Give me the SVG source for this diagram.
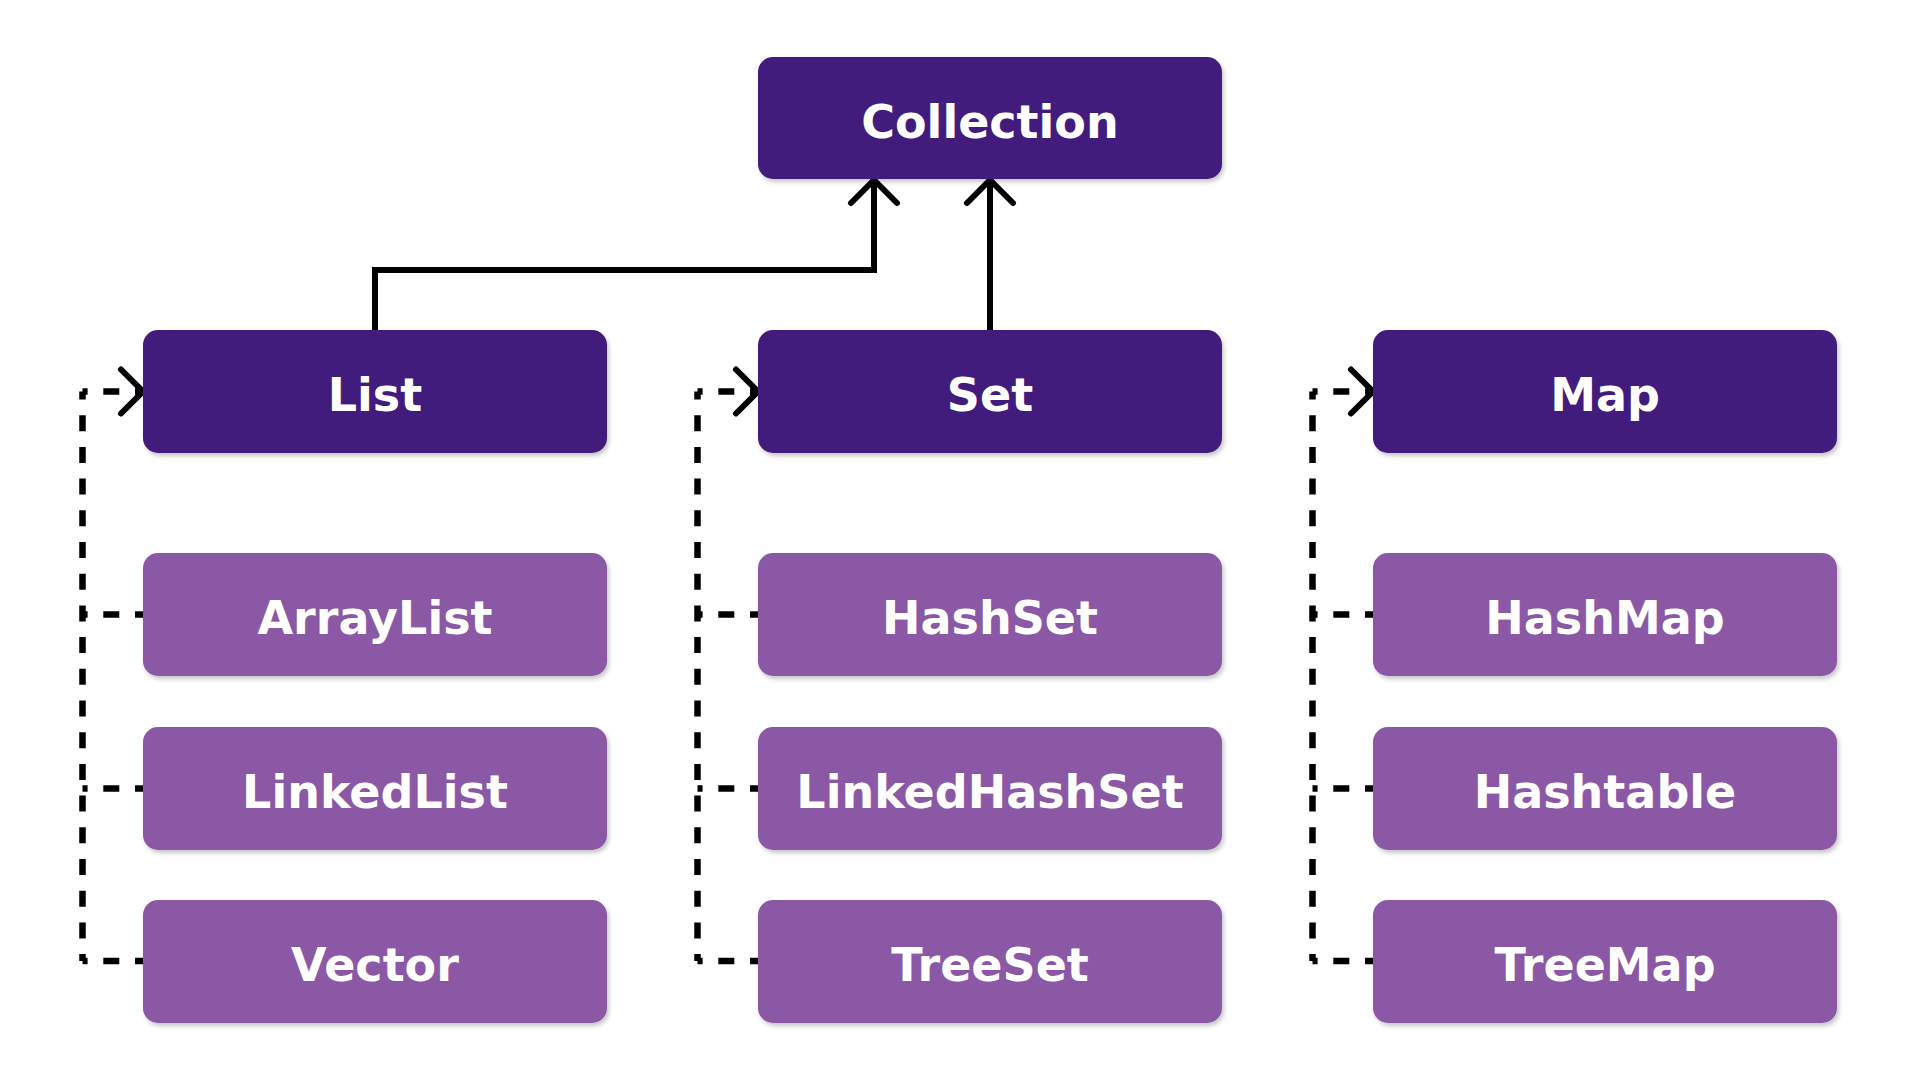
<svg xmlns="http://www.w3.org/2000/svg" width="1920" height="1080" viewBox="0 0 1920 1080">
  <defs>
    <filter id="shadow" x="-5%" y="-10%" width="115%" height="130%">
      <feDropShadow dx="2" dy="3" stdDeviation="2" flood-color="#000" flood-opacity="0.22"/>
    </filter>
    <path id="chevUp" d="M-23,23 L0,0 L23,23"/>
    <path id="chevRight" d="M-22,-22 L0,0 L-22,22"/>
  </defs>
  <style>
    .iface { fill: #431a7c; filter: url(#shadow); }
    .impl { fill: #8a59a4; filter: url(#shadow); }
    .label { font-family: "DejaVu Sans", "Liberation Sans", sans-serif; font-weight: bold; font-size: 46px; fill: #ffffff; text-anchor: middle; }
    .solid { fill: none; stroke: #000; stroke-width: 6; stroke-linejoin: miter; }
    .arrow { fill: none; stroke: #000; stroke-width: 6; stroke-linecap: round; stroke-linejoin: miter; }
    .dash { fill: none; stroke: #000; stroke-width: 6.5; stroke-dasharray: 16 15.7; stroke-dashoffset: 8; }
  </style>
  <rect width="1920" height="1080" fill="#ffffff"/>

  <g id="connectors">
    <!-- solid inheritance -->
    <path class="solid" d="M375,330 V270 H874 V182"/>
    <use href="#chevUp" class="arrow" x="874" y="180"/>
    <path class="solid" d="M990,330 V182"/>
    <use href="#chevUp" class="arrow" x="990" y="180"/>

    <!-- List column -->
    <path class="dash" d="M143,391.5 H82.5"/>
    <path class="dash" d="M82.5,391.5 V961"/>
    <path class="dash" d="M143,614.5 H82.5"/>
    <path class="dash" d="M143,788.5 H82.5"/>
    <path class="dash" d="M143,961 H82.5"/>
    <use href="#chevRight" class="arrow" x="143" y="391.5"/>

    <!-- Set column -->
    <path class="dash" d="M758,391.5 H697.5"/>
    <path class="dash" d="M697.5,391.5 V961"/>
    <path class="dash" d="M758,614.5 H697.5"/>
    <path class="dash" d="M758,788.5 H697.5"/>
    <path class="dash" d="M758,961 H697.5"/>
    <use href="#chevRight" class="arrow" x="758" y="391.5"/>

    <!-- Map column -->
    <path class="dash" d="M1373,391.5 H1312.5"/>
    <path class="dash" d="M1312.5,391.5 V961"/>
    <path class="dash" d="M1373,614.5 H1312.5"/>
    <path class="dash" d="M1373,788.5 H1312.5"/>
    <path class="dash" d="M1373,961 H1312.5"/>
    <use href="#chevRight" class="arrow" x="1373" y="391.5"/>
  </g>

  <g id="node-collection">
    <rect class="iface" x="758" y="57" width="464" height="122" rx="15"/>
    <text class="label" x="990" y="138">Collection</text>
  </g>

  <g id="node-list">
    <rect class="iface" x="143" y="330" width="464" height="123" rx="15"/>
    <text class="label" x="375" y="411">List</text>
  </g>
  <g id="node-set">
    <rect class="iface" x="758" y="330" width="464" height="123" rx="15"/>
    <text class="label" x="990" y="411">Set</text>
  </g>
  <g id="node-map">
    <rect class="iface" x="1373" y="330" width="464" height="123" rx="15"/>
    <text class="label" x="1605" y="411">Map</text>
  </g>

  <g id="node-arraylist">
    <rect class="impl" x="143" y="553" width="464" height="123" rx="15"/>
    <text class="label" x="375" y="634">ArrayList</text>
  </g>
  <g id="node-linkedlist">
    <rect class="impl" x="143" y="727" width="464" height="123" rx="15"/>
    <text class="label" x="375" y="808">LinkedList</text>
  </g>
  <g id="node-vector">
    <rect class="impl" x="143" y="900" width="464" height="123" rx="15"/>
    <text class="label" x="375" y="981">Vector</text>
  </g>

  <g id="node-hashset">
    <rect class="impl" x="758" y="553" width="464" height="123" rx="15"/>
    <text class="label" x="990" y="634">HashSet</text>
  </g>
  <g id="node-linkedhashset">
    <rect class="impl" x="758" y="727" width="464" height="123" rx="15"/>
    <text class="label" x="990" y="808">LinkedHashSet</text>
  </g>
  <g id="node-treeset">
    <rect class="impl" x="758" y="900" width="464" height="123" rx="15"/>
    <text class="label" x="990" y="981">TreeSet</text>
  </g>

  <g id="node-hashmap">
    <rect class="impl" x="1373" y="553" width="464" height="123" rx="15"/>
    <text class="label" x="1605" y="634">HashMap</text>
  </g>
  <g id="node-hashtable">
    <rect class="impl" x="1373" y="727" width="464" height="123" rx="15"/>
    <text class="label" x="1605" y="808">Hashtable</text>
  </g>
  <g id="node-treemap">
    <rect class="impl" x="1373" y="900" width="464" height="123" rx="15"/>
    <text class="label" x="1605" y="981">TreeMap</text>
  </g>
</svg>
